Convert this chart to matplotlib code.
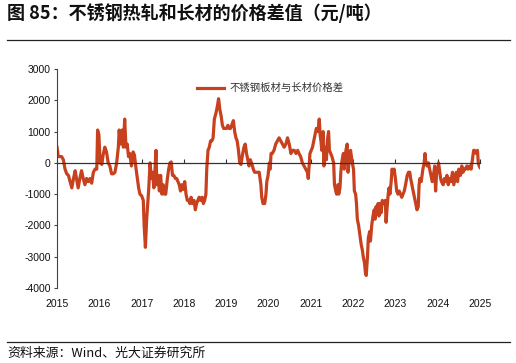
import matplotlib
matplotlib.use("Agg")
import matplotlib.pyplot as plt
from matplotlib.lines import Line2D

plt.rcParams['axes.unicode_minus'] = False
plt.rcParams['font.family'] = ['Liberation Sans', 'Noto Sans CJK SC', 'DejaVu Sans']

title = "图 85：不锈钢热轧和长材的价格差值（元/吨）"
source = "资料来源：Wind、光大证券研究所"
series_name = "不锈钢板材与长材价格差"

dates = [
    2015.00, 2015.03, 2015.11, 2015.15, 2015.19, 2015.23, 2015.27, 2015.31, 2015.35, 2015.39,
    2015.43, 2015.46, 2015.50, 2015.54, 2015.58, 2015.62, 2015.66, 2015.70, 2015.74, 2015.78,
    2015.82, 2015.86, 2015.90, 2015.94, 2015.96, 2015.99, 2016.02, 2016.06, 2016.09, 2016.13,
    2016.17, 2016.21, 2016.25, 2016.29, 2016.33, 2016.37, 2016.41, 2016.45, 2016.47, 2016.50,
    2016.54, 2016.57, 2016.60, 2016.63, 2016.66, 2016.69, 2016.72, 2016.76, 2016.80, 2016.83,
    2016.87, 2016.90, 2016.93, 2016.96, 2017.00, 2017.04, 2017.06, 2017.09, 2017.12, 2017.15,
    2017.17, 2017.20, 2017.23, 2017.26, 2017.29, 2017.31, 2017.34, 2017.36, 2017.39, 2017.42,
    2017.45, 2017.48, 2017.51, 2017.54, 2017.57, 2017.61, 2017.64, 2017.67, 2017.70, 2017.73,
    2017.76, 2017.80, 2017.83, 2017.86, 2017.89, 2017.92, 2017.95, 2017.98, 2018.02, 2018.05,
    2018.08, 2018.11, 2018.14, 2018.17, 2018.20, 2018.24, 2018.27, 2018.30, 2018.33, 2018.36,
    2018.39, 2018.43, 2018.46, 2018.49, 2018.52, 2018.54, 2018.57, 2018.60, 2018.63, 2018.66,
    2018.69, 2018.72, 2018.76, 2018.79, 2018.82, 2018.85, 2018.88, 2018.91, 2018.94, 2018.98,
    2019.01, 2019.04, 2019.07, 2019.10, 2019.13, 2019.17, 2019.20, 2019.23, 2019.26, 2019.29,
    2019.32, 2019.35, 2019.39, 2019.42, 2019.45, 2019.48, 2019.51, 2019.54, 2019.57, 2019.61,
    2019.64, 2019.67, 2019.72, 2019.78, 2019.82, 2019.84, 2019.87, 2019.91, 2019.94, 2019.96,
    2019.99, 2020.02, 2020.04, 2020.06, 2020.09, 2020.13, 2020.17, 2020.21, 2020.25, 2020.29,
    2020.33, 2020.37, 2020.41, 2020.45, 2020.49, 2020.53, 2020.57, 2020.61, 2020.65, 2020.69,
    2020.72, 2020.76, 2020.80, 2020.84, 2020.88, 2020.92, 2020.94, 2020.98, 2021.01, 2021.04,
    2021.07, 2021.10, 2021.13, 2021.17, 2021.20, 2021.22, 2021.24, 2021.26, 2021.29, 2021.31,
    2021.34, 2021.37, 2021.39, 2021.42, 2021.44, 2021.47, 2021.50, 2021.54, 2021.56, 2021.59,
    2021.61, 2021.64, 2021.66, 2021.69, 2021.71, 2021.73, 2021.77, 2021.79, 2021.81, 2021.83,
    2021.86, 2021.88, 2021.91, 2021.94, 2021.96, 2021.98, 2022.01, 2022.03, 2022.06, 2022.08,
    2022.10, 2022.13, 2022.16, 2022.19, 2022.22, 2022.24, 2022.27, 2022.29, 2022.31, 2022.34,
    2022.36, 2022.39, 2022.41, 2022.44, 2022.47, 2022.50, 2022.52, 2022.54, 2022.57, 2022.59,
    2022.61, 2022.64, 2022.66, 2022.69, 2022.71, 2022.73, 2022.76, 2022.78, 2022.80, 2022.83,
    2022.85, 2022.87, 2022.90, 2022.92, 2022.95, 2022.97, 2023.00, 2023.03, 2023.06, 2023.09,
    2023.12, 2023.15, 2023.18, 2023.21, 2023.24, 2023.28, 2023.31, 2023.34, 2023.36, 2023.39,
    2023.42, 2023.45, 2023.48, 2023.51, 2023.54, 2023.56, 2023.58, 2023.61, 2023.63, 2023.65,
    2023.68, 2023.70, 2023.72, 2023.75, 2023.78, 2023.81, 2023.84, 2023.87, 2023.91, 2023.93,
    2023.95, 2023.98, 2024.00, 2024.02, 2024.05, 2024.07, 2024.09, 2024.13, 2024.16, 2024.19,
    2024.22, 2024.25, 2024.28, 2024.31, 2024.35, 2024.38, 2024.41, 2024.44, 2024.47, 2024.50,
    2024.54, 2024.57, 2024.60, 2024.63, 2024.66, 2024.69, 2024.72, 2024.76, 2024.79, 2024.82,
    2024.85, 2024.87, 2024.91, 2024.94, 2024.96, 2024.98, 2025.00,
]

values = [
    500, 200, 200, 100, -200, -350, -400, -600, -800, -500,
    -250, -500, -800, -500, -250, -500, -700, -500, -600, -500,
    -650, -300, -200, -200, 1050, 900, 0, -50, 250, 500,
    350, 0, -100, -350, -350, -300, 0, 500, 1050, 600,
    1050, 500, 1400, 500, 600, 200, 300, -100, 350, 250,
    -200, -500, -800, -1000, -1050, -1200, -2000, -2700, -1800, -1200,
    -800, 0, -500, -300, -800, -400, 400, -700, -400, -900,
    -400, -1000, -700, -1000, -1000, -500, -200, 0, 30, -400,
    -400, -500, -500, -600, -700, -900, -700, -850, -600, -1000,
    -1200, -1200, -1300, -1100, -1300, -1200, -1500, -1300, -1200, -1100,
    -1200, -1100, -1300, -1200, -1000, -200, 400, 500, 700, 700,
    800, 1400, 1600, 1800, 2050, 1700, 1500, 1200, 1100, 1100,
    1100, 1200, 1100, 1100, 1200, 1350, 1000, 800, 700, 400,
    0, -50, 300, 500, 600, 300, 100, -100, 100, -50,
    -200, -300, -300, -300, -700, -1100, -1300, -1300, -1000, -600,
    -400, 0, -200, 300, 300, 400, 600, 700, 800, 700,
    600, 500, 600, 800, 600, 300, 400, 400, 300, 400,
    300, 200, 0, -100, -200, -300, -500, 300, 400, 500,
    700, 900, 1100, 1000, 1400, 900, 700, 400, 1000, -100,
    500, 100, 700, 1000, 400, 300, 200, 0, -700, -900,
    -1000, -700, -1000, -800, -300, 0, 300, -200, 100, 400,
    600, -300, 100, 400, 200, 0, -200, -900, -1000, -1300,
    -1800, -2000, -2300, -2600, -2800, -3000, -3200, -3500, -3600, -3000,
    -2400, -2200, -2500, -2000, -1700, -1500, -1800, -1400, -1600, -1300,
    -1700, -1300, -1600, -1200, -1300, -1300, -1200, -1900, -1500, -1000,
    -800, -1000, -600, -200, -300, -200, -500, -900, -1000, -900,
    -1000, -1100, -1000, -900, -700, -400, -300, -300, -500, -700,
    -900, -1100, -1300, -1500, -1400, -700, -500, -600, -400, -200,
    0, 300, 0, -100, 0, -200, -400, -600, -300, -100,
    -900, -200, -300, 0, -300, -500, -600, -700, -500, -600,
    -400, -700, -500, -600, -300, -700, -500, -300, -600, -200,
    -400, -100, -300, -200, -200, -100, -200, -100, -200, 100,
    400, 400, 300, 400, 0, -100, -150,
]

year_ticks = list(range(2015, 2026))
y_ticks = list(range(-4000, 3001, 1000))

W, H = 516, 363
fig = plt.figure(figsize=(W / 100, H / 100), dpi=100)
ax = fig.add_axes([57 / W, 1 - 288 / H, (480 - 57) / W, (288 - 69) / H])

line_color = '#C8411F'
ax.plot(dates, values, color=line_color, lw=2.3, label=series_name, solid_joinstyle='round')

ax.set_xlim(2015, 2025)
ax.set_ylim(-4000, 3000)

for s in ['top', 'right']:
    ax.spines[s].set_visible(False)
ax.spines['left'].set_color('#444444')
ax.spines['left'].set_linewidth(0.8)
ax.spines['bottom'].set_position(('data', 0))
ax.spines['bottom'].set_color('#333333')
ax.spines['bottom'].set_linewidth(0.9)

ax.set_xticks(year_ticks)
ax.tick_params(axis='x', direction='in', length=3, width=0.8, color='#333333', labelbottom=False)
ax.set_yticks(y_ticks)
ax.set_yticklabels([str(v) for v in y_ticks])
ax.tick_params(axis='y', direction='out', length=2.5, width=0.8, color='#444444', labelsize=7.5, pad=2, labelcolor='#111111')

sec = ax.secondary_xaxis(0.0)
sec.set_xticks(year_ticks)
sec.set_xticklabels([str(y) for y in year_ticks])
sec.tick_params(length=0, labelsize=7.5, pad=8, labelcolor='#111111')
sec.spines['bottom'].set_visible(False)

leg = ax.legend(loc='upper left', bbox_to_anchor=(0.322, 0.955), frameon=False,
                handlelength=2.6, handletextpad=0.5, borderaxespad=0,
                prop={'family': ['Noto Sans CJK SC', 'DejaVu Sans'], 'size': 7.5})
for t in leg.get_texts():
    t.set_color('#333333')

fig.text(7 / W, 1 - 13 / H, title, fontsize=13, fontweight='bold', va='center', ha='left',
         family=['Noto Sans CJK SC', 'DejaVu Sans'], color='#111111')
fig.add_artist(Line2D([7 / W, 510 / W], [1 - 40 / H, 1 - 40 / H], color='#222222', lw=0.9))
fig.add_artist(Line2D([7 / W, 510 / W], [1 - 342 / H, 1 - 342 / H], color='#222222', lw=0.9))
fig.text(7 / W, 1 - 353 / H, source, fontsize=9.3, va='center', ha='left',
         family=['Noto Sans CJK SC', 'DejaVu Sans'], color='#111111')

fig.savefig('out.png', dpi=100)
